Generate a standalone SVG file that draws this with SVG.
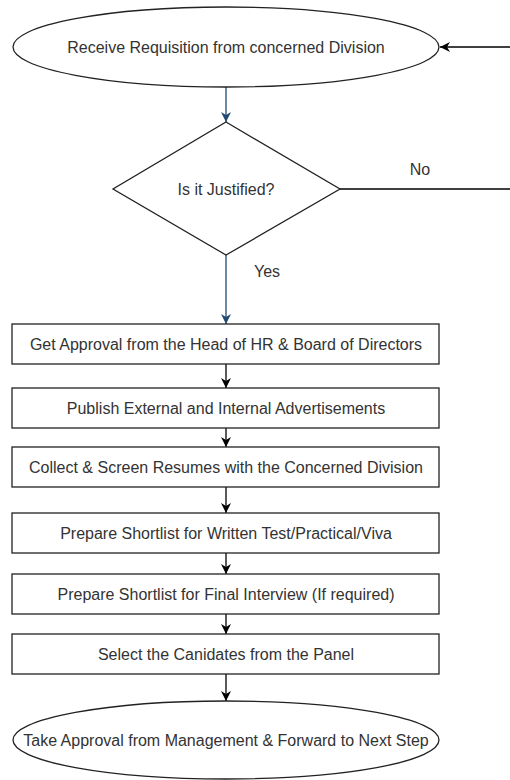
<svg xmlns="http://www.w3.org/2000/svg" width="510" height="780" viewBox="0 0 510 780">
<style>
.shape{fill:#fff;stroke:#222;stroke-width:1.3}
.t{font-family:"Liberation Sans",Arial,sans-serif;font-size:16px;fill:#333;text-anchor:middle;dominant-baseline:central}
.c{fill:none;stroke:#000;stroke-width:1.3}
.cb{fill:none;stroke:#1f4a72;stroke-width:1.3}
</style>
<defs>
<marker id="ah" viewBox="0 0 10 10" refX="10" refY="5" markerWidth="10" markerHeight="10" markerUnits="userSpaceOnUse" orient="auto"><path d="M0,0 L10,5 L0,10 L3,5 Z" fill="#000"/></marker>
<marker id="ahb" viewBox="0 0 10 10" refX="10" refY="5" markerWidth="10" markerHeight="10" markerUnits="userSpaceOnUse" orient="auto"><path d="M0,0 L10,5 L0,10 L3,5 Z" fill="#1f4a72"/></marker>
</defs>
<g id="connectors">
<path class="cb" d="M226,87 L226,122" marker-end="url(#ahb)"/>
<path class="c" d="M340,189 L510,189"/>
<path class="c" d="M510,47 L440,47" marker-end="url(#ah)"/>
<path class="cb" d="M226,255 L226,324" marker-end="url(#ahb)"/>
<path class="c" d="M226,364 L226,388" marker-end="url(#ah)"/>
<path class="c" d="M226,428 L226,447" marker-end="url(#ah)"/>
<path class="c" d="M226,487 L226,513" marker-end="url(#ah)"/>
<path class="c" d="M226,553 L226,574" marker-end="url(#ah)"/>
<path class="c" d="M226,614 L226,634" marker-end="url(#ah)"/>
<path class="c" d="M226,674 L226,701" marker-end="url(#ah)"/>
<text class="t" x="420" y="169">No</text>
<text class="t" x="267" y="271">Yes</text>
</g>
<g id="start"><ellipse class="shape" cx="226" cy="47" rx="213" ry="40"/><text class="t" x="226" y="47">Receive Requisition from concerned Division</text></g>
<g id="decision"><polygon class="shape" points="226,122 340,189 226,255 113,189"/><text class="t" x="226" y="189">Is it Justified?</text></g>
<g id="step1"><rect class="shape" x="12" y="324" width="427" height="40"/><text class="t" x="226" y="344">Get Approval from the Head of HR &amp; Board of Directors</text></g>
<g id="step2"><rect class="shape" x="12" y="388" width="427" height="40"/><text class="t" x="226" y="408">Publish External and Internal Advertisements</text></g>
<g id="step3"><rect class="shape" x="12" y="447" width="427" height="40"/><text class="t" x="226" y="467">Collect &amp; Screen Resumes with the Concerned Division</text></g>
<g id="step4"><rect class="shape" x="12" y="513" width="427" height="40"/><text class="t" x="226" y="533">Prepare Shortlist for Written Test/Practical/Viva</text></g>
<g id="step5"><rect class="shape" x="12" y="574" width="427" height="40"/><text class="t" x="226" y="594">Prepare Shortlist for Final Interview (If required)</text></g>
<g id="step6"><rect class="shape" x="12" y="634" width="427" height="40"/><text class="t" x="226" y="654">Select the Canidates from the Panel</text></g>
<g id="end"><ellipse class="shape" cx="226" cy="740" rx="213" ry="39"/><text class="t" x="226" y="740">Take Approval from Management &amp; Forward to Next Step</text></g>
</svg>
